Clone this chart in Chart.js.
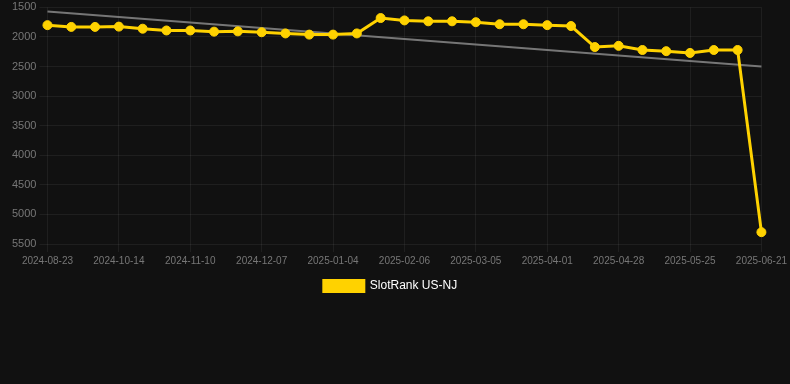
<!DOCTYPE html>
<html>
<head>
<meta charset="utf-8">
<script src="https://cdn.jsdelivr.net/npm/chart.js@4/dist/chart.umd.min.js"></script>
<style>
  html, body { margin: 0; padding: 0; background: #111111; }
  #wrap { width: 790px; height: 302px; position: relative; }
</style>
</head>
<body>
<div id="wrap"><canvas id="c"></canvas></div>
<script>
const categories = [
  '2024-08-23','2024-09-10','2024-09-27','2024-10-14','2024-10-23','2024-11-01',
  '2024-11-10','2024-11-19','2024-11-28','2024-12-07','2024-12-16','2024-12-25',
  '2025-01-04','2025-01-15','2025-01-26','2025-02-06','2025-02-15','2025-02-24',
  '2025-03-05','2025-03-14','2025-03-23','2025-04-01','2025-04-10','2025-04-19',
  '2025-04-28','2025-05-07','2025-05-16','2025-05-25','2025-06-03','2025-06-12',
  '2025-06-21'
];
const rankValues = [
  1800, 1830, 1830, 1825, 1860, 1890, 1890, 1910, 1905, 1920, 1940, 1960,
  1960, 1940, 1680, 1720, 1735, 1735, 1750, 1785, 1785, 1800, 1815, 2170,
  2150, 2220, 2240, 2270, 2220, 2220, 5300
];
const trendValues = [
  1570, null, null, null, null, null, null, null, null, null, null, null,
  null, null, null, null, null, null, null, null, null, null, null, null,
  null, null, null, null, null, null, 2500
];
const yTicks = [1500, 2000, 2500, 3000, 3500, 4000, 4500, 5000, 5500];

const FONT = "'Liberation Sans', Arial, Helvetica, sans-serif";
const GRID = 'rgba(255,255,255,0.06)';

new Chart(document.getElementById('c'), {
  type: 'line',
  data: {
    labels: categories,
    datasets: [
      {
        label: 'SlotRank US-NJ',
        data: rankValues,
        borderColor: '#FFD200',
        backgroundColor: '#FFD200',
        borderWidth: 3,
        pointRadius: 4.5,
        pointBorderWidth: 1,
        pointHoverRadius: 4.5,
        pointBackgroundColor: '#FFD200',
        pointBorderColor: '#FFD200',
        tension: 0,
        order: 1
      },
      {
        label: 'trend',
        data: trendValues,
        borderColor: 'rgba(130,130,130,0.9)',
        borderWidth: 2,
        pointRadius: 0,
        spanGaps: true,
        fill: false,
        order: 2
      }
    ]
  },
  options: {
    responsive: true,
    maintainAspectRatio: false,
    animation: false,
    layout: { padding: { left: 9, right: 18 } },
    plugins: {
      legend: {
        position: 'bottom',
        labels: {
          color: '#ffffff',
          font: { family: FONT, size: 12 },
          boxWidth: 40,
          boxHeight: 11,
          filter: (item) => item.text !== 'trend'
        }
      },
      tooltip: { enabled: false }
    },
    scales: {
      x: {
        grid: {
          color: (ctx) => (ctx.index % 3 === 0 ? GRID : 'rgba(0,0,0,0)')
        },
        border: { display: false },
        ticks: {
          color: '#777777',
          font: { family: FONT, size: 10 },
          autoSkip: false,
          maxRotation: 0,
          callback: function(v, i) { return i % 3 === 0 ? categories[i] : ''; }
        }
      },
      y: {
        reverse: true,
        min: yTicks[0],
        max: yTicks[yTicks.length - 1],
        grid: { color: GRID },
        border: { display: false },
        afterBuildTicks: (axis) => { axis.ticks = yTicks.map(v => ({ value: v })); },
        ticks: {
          color: '#777777',
          font: { family: FONT, size: 11, lineHeight: 0.8 },
          callback: (v) => String(v)
        }
      }
    }
  }
});
</script>
</body>
</html>
